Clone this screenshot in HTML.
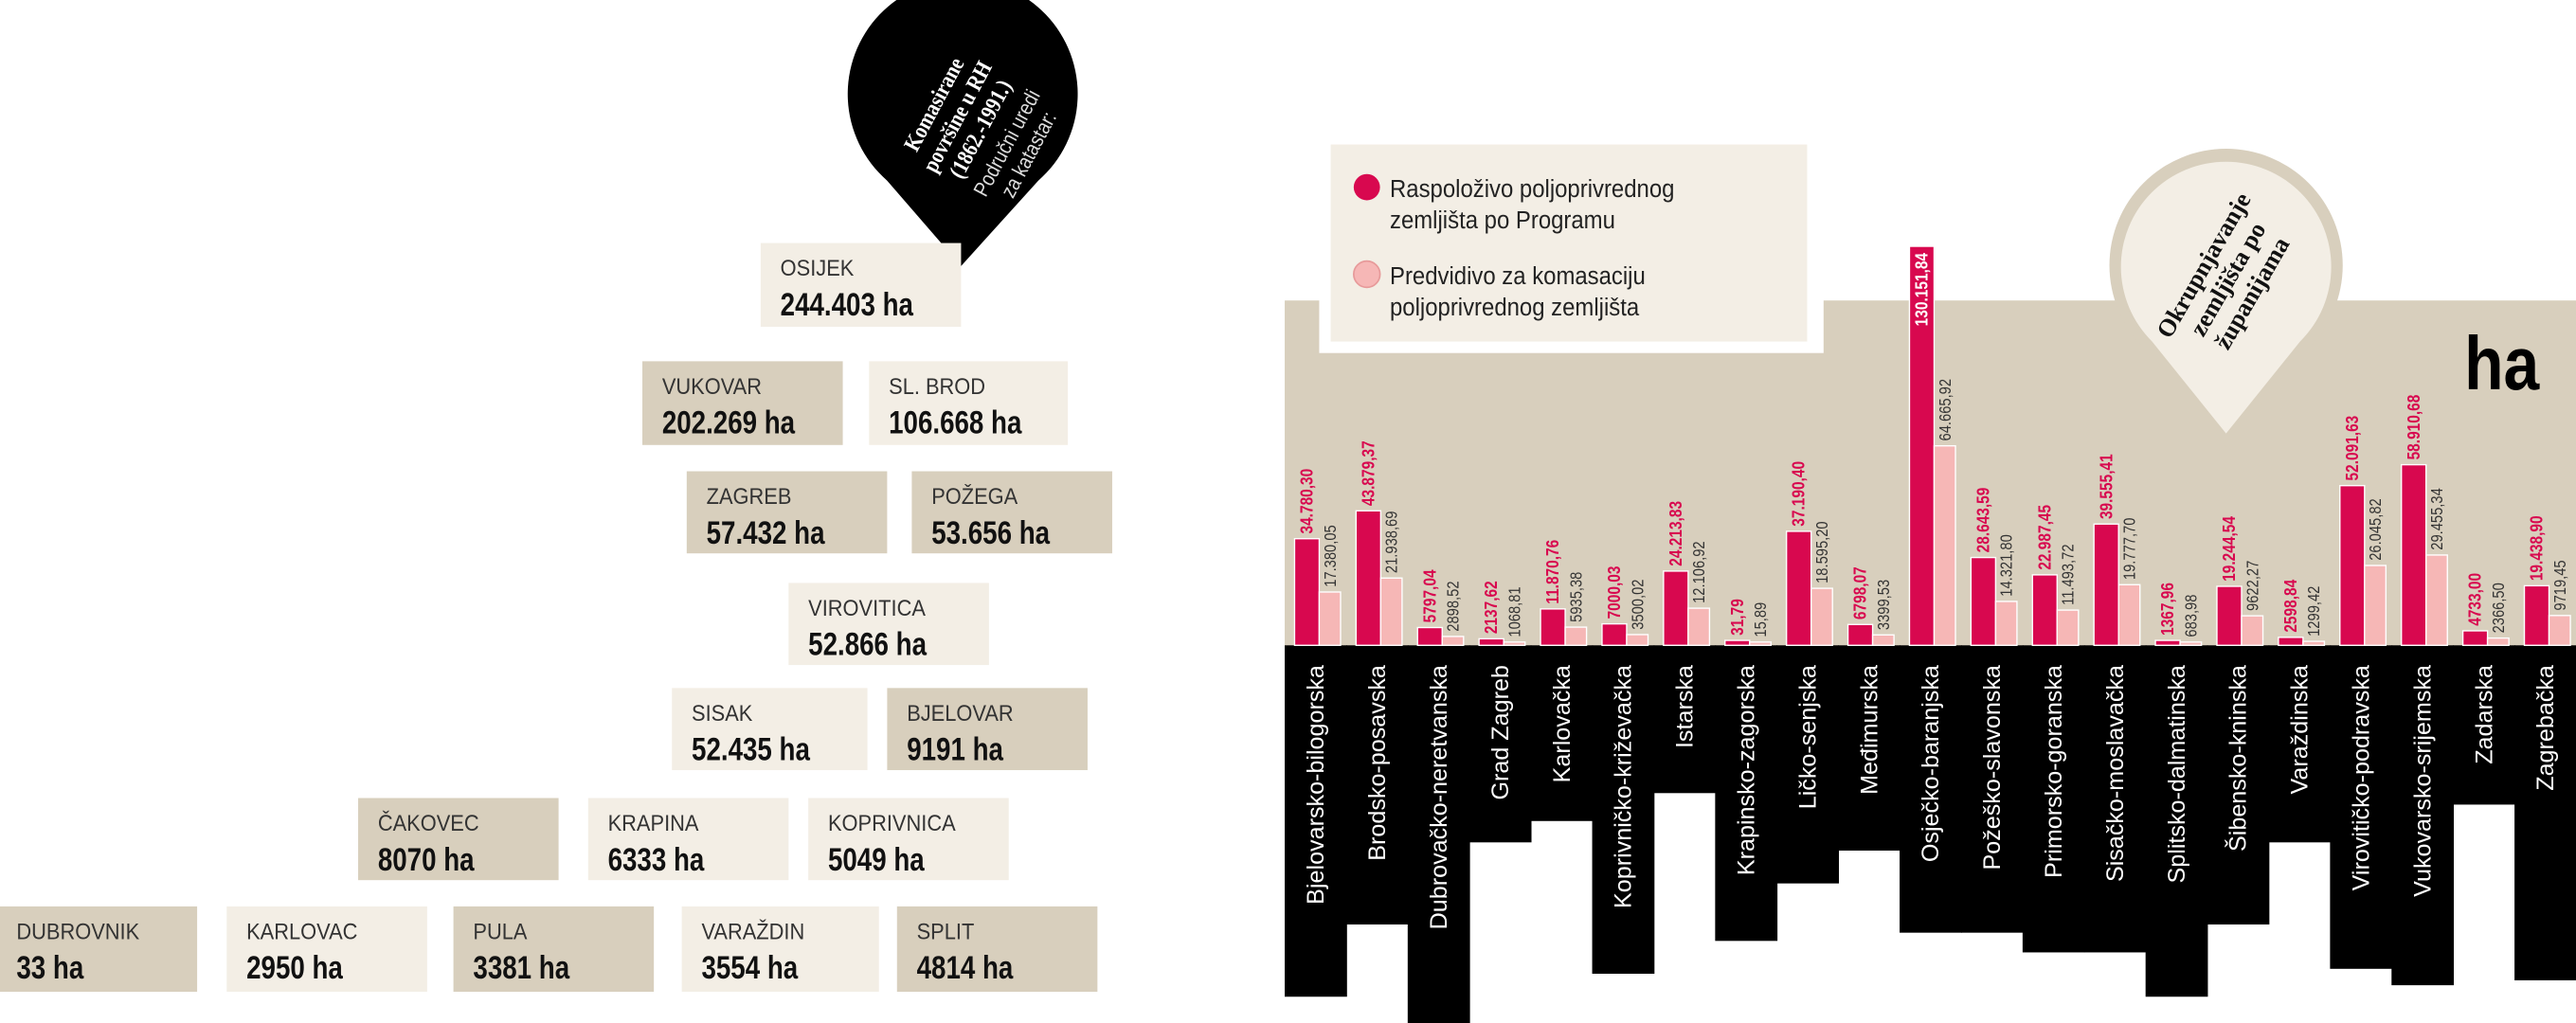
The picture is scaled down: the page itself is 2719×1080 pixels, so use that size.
<!DOCTYPE html>
<html><head><meta charset="utf-8"><style>
html,body{margin:0;padding:0;background:#fff;}
svg{display:block;}
.nm{font-family:"Liberation Sans","DejaVu Sans",sans-serif;font-size:14px;fill:#333;}
.vl{font-family:"Liberation Sans","DejaVu Sans",sans-serif;font-size:20px;font-weight:bold;fill:#111;}
.rl{font-family:"Liberation Sans","DejaVu Sans",sans-serif;font-size:10.5px;font-weight:bold;fill:#d8084f;}
.ll{font-family:"Liberation Sans","DejaVu Sans",sans-serif;font-size:10px;fill:#333;}
.cl{font-family:"Liberation Sans","DejaVu Sans",sans-serif;font-size:14.5px;fill:#fff;}
.lg{font-family:"Liberation Sans","DejaVu Sans",sans-serif;font-size:15px;fill:#222;}
</style></head><body>
<svg width="2719" height="1080" viewBox="0 0 1568 623" preserveAspectRatio="none" xmlns="http://www.w3.org/2000/svg">
<path d="M585,162 L540,110 A70,70 0 1,1 632,110 Z" fill="#000"/>
<g transform="translate(592,76) rotate(-62) scale(0.85,1)" font-family="Liberation Serif,serif" fill="#fff" text-anchor="middle">
<text x="0" y="-22" font-size="14" font-weight="bold">Komasirane</text>
<text x="0" y="-6" font-size="14" font-weight="bold">površine u RH</text>
<text x="0" y="10" font-size="14" font-weight="bold">(1862.-1991.)</text>
<text x="0" y="28" font-size="13" font-family="Liberation Sans,sans-serif" fill="#ddd">Područni uredi</text>
<text x="0" y="43" font-size="13" font-family="Liberation Sans,sans-serif" fill="#ddd">za katastar:</text>
</g>
<g id="boxes"></g>
<rect x="782" y="183" width="786" height="211" fill="#d8cfbd"/>
<rect x="803" y="84" width="307" height="131" fill="#fff"/>
<rect x="810" y="88" width="290" height="120" fill="#f3eee5"/>
<circle cx="832" cy="114" r="8" fill="#d8084f"/>
<g transform="translate(846,0) scale(0.92,1)">
<text class="lg" x="0" y="120">Raspoloživo poljoprivrednog</text>
<text class="lg" x="0" y="139">zemljišta po Programu</text>
<text class="lg" x="0" y="173">Predvidivo za komasaciju</text>
<text class="lg" x="0" y="192">poljoprivrednog zemljišta</text>
</g>
<circle cx="832" cy="167" r="8" fill="#f6b7b6" stroke="#e79a9a" stroke-width="1"/>
<path d="M1355,272 L1305,212 A71,71 0 1,1 1405,212 Z" fill="#d8cfbd"/>
<path d="M1355,264 L1310,208 A64,64 0 1,1 1400,208 Z" fill="#f3eee5"/>
<g transform="translate(1356,170) rotate(-60)" font-family="Liberation Serif,serif" font-weight="bold" font-size="15" fill="#111" text-anchor="middle">
<text x="0" y="-12">Okrupnjavanje</text><text x="0" y="5">zemljišta po</text><text x="0" y="22">županijama</text>
</g>
<text transform="translate(1500,237) scale(0.85,1)" font-family="Liberation Sans,sans-serif" font-weight="bold" font-size="46" fill="#000">ha</text>
<g id="chart"></g>
</svg>
<script>
var bx=[[463,148,122,51,0,"OSIJEK","244.403 ha"],[391,220,122,51,1,"VUKOVAR","202.269 ha"],[529,220,121,51,0,"SL. BROD","106.668 ha"],
[418,287,122,50,1,"ZAGREB","57.432 ha"],[555,287,122,50,1,"POŽEGA","53.656 ha"],[480,355,122,50,0,"VIROVITICA","52.866 ha"],
[409,419,119,50,0,"SISAK","52.435 ha"],[540,419,122,50,1,"BJELOVAR","9191 ha"],[218,486,122,50,1,"ČAKOVEC","8070 ha"],
[358,486,122,50,0,"KRAPINA","6333 ha"],[492,486,122,50,0,"KOPRIVNICA","5049 ha"],[0,552,120,52,1,"DUBROVNIK","33 ha"],
[138,552,122,52,0,"KARLOVAC","2950 ha"],[276,552,122,52,1,"PULA","3381 ha"],[415,552,120,52,0,"VARAŽDIN","3554 ha"],[546,552,122,52,1,"SPLIT","4814 ha"]];
var t="";bx.forEach(function(b){var tx=b[0]==0?10:b[0]+12;
t+='<rect x="'+b[0]+'" y="'+b[1]+'" width="'+b[2]+'" height="'+b[3]+'" fill="'+(b[4]?"#d8cfbd":"#f3eee5")+'"/>';
t+='<text class="nm" transform="translate('+tx+','+(b[1]+20)+') scale(0.9,1)">'+b[5]+'</text>';
t+='<text class="vl" transform="translate('+tx+','+(b[1]+44)+') scale(0.8,1)">'+b[6]+'</text>';});
document.getElementById("boxes").innerHTML=t;
var d=[["Bjelovarsko-bilogorska",34780.30,"34.780,30","17.380,05",607],
["Brodsko-posavska",43879.37,"43.879,37","21.938,69",563],
["Dubrovačko-neretvanska",5797.04,"5797,04","2898,52",623],
["Grad Zagreb",2137.62,"2137,62","1068,81",513],
["Karlovačka",11870.76,"11.870,76","5935,38",500],
["Koprivničko-križevačka",7000.03,"7000,03","3500,02",593],
["Istarska",24213.83,"24.213,83","12.106,92",483],
["Krapinsko-zagorska",31.79,"31,79","15,89",573],
["Ličko-senjska",37190.40,"37.190,40","18.595,20",538],
["Međimurska",6798.07,"6798,07","3399,53",518],
["Osječko-baranjska",130151.84,"130.151,84","64.665,92",568],
["Požeško-slavonska",28643.59,"28.643,59","14.321,80",568],
["Primorsko-goranska",22987.45,"22.987,45","11.493,72",580],
["Sisačko-moslavačka",39555.41,"39.555,41","19.777,70",580],
["Splitsko-dalmatinska",1367.96,"1367,96","683,98",607],
["Šibensko-kninska",19244.54,"19.244,54","9622,27",563],
["Varaždinska",2598.84,"2598,84","1299,42",513],
["Virovitičko-podravska",52091.63,"52.091,63","26.045,82",590],
["Vukovarsko-srijemska",58910.68,"58.910,68","29.455,34",600],
["Zadarska",4733.00,"4733,00","2366,50",490],
["Zagrebačka",19438.90,"19.438,90","9719,45",597]];
var s="",B=393,W=786/21,k=243/130151.84;
d.forEach(function(r,i){var x=782+i*W;
s+='<rect x="'+x+'" y="'+B+'" width="'+(W+0.5)+'" height="'+(r[4]-B)+'" fill="#000"/>';
var h=Math.max(r[1]*k,3),h2=Math.max(r[1]/2*k,2);
s+='<rect x="'+(x+6)+'" y="'+(B-h)+'" width="15" height="'+h+'" fill="#d8084f" stroke="#fff" stroke-width="0.8"/>';
s+='<rect x="'+(x+21)+'" y="'+(B-h2)+'" width="13" height="'+h2+'" fill="#f6b7b6" stroke="#fff" stroke-width="0.8"/>';
if(i==10){s+='<text class="rl" style="fill:#fff" transform="translate('+(x+17)+','+(B-h+4)+') rotate(-90) scale(0.85,1)" text-anchor="end">'+r[2]+'</text>';}
else s+='<text class="rl" transform="translate('+(x+17)+','+(B-h-3)+') rotate(-90) scale(0.85,1)">'+r[2]+'</text>';
s+='<text class="ll" transform="translate('+(x+31)+','+(B-h2-3)+') rotate(-90) scale(0.85,1)">'+r[3]+'</text>';
s+='<text class="cl" transform="translate('+(x+W/2+5)+','+(B+12)+') rotate(-90)" text-anchor="end">'+r[0]+'</text>';
});
document.getElementById("chart").innerHTML=s;
</script>
</body></html>
